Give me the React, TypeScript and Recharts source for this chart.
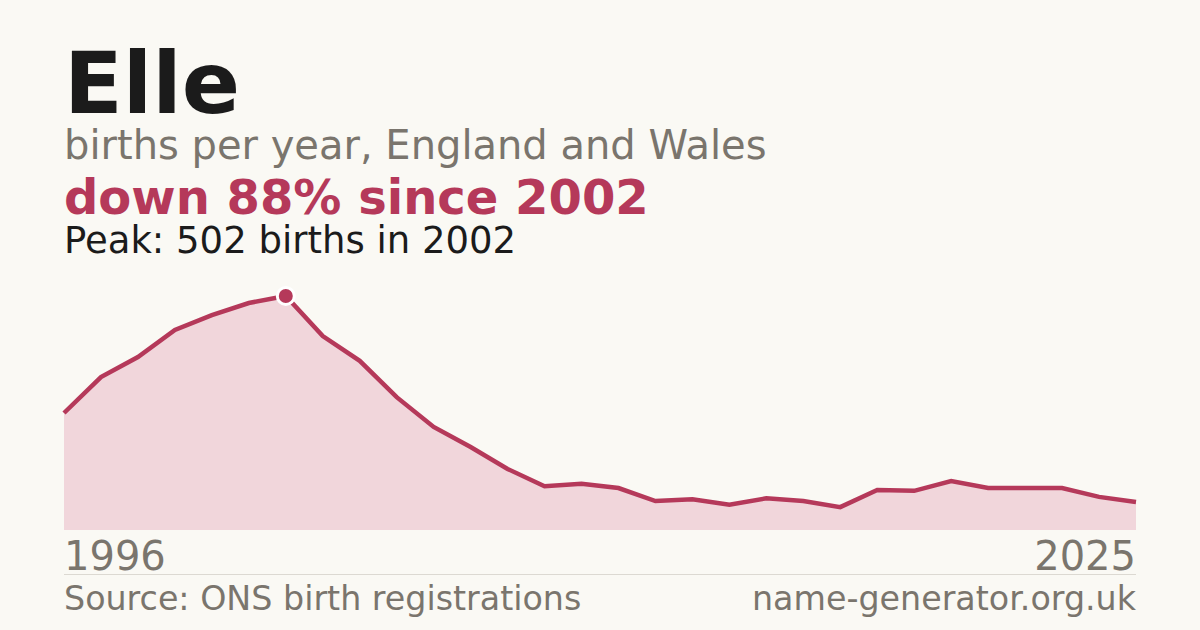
import React from "react";
import { AreaChart, Area, XAxis, YAxis } from "recharts";

const years = [
  1996, 1997, 1998, 1999, 2000, 2001, 2002, 2003, 2004, 2005,
  2006, 2007, 2008, 2009, 2010, 2011, 2012, 2013, 2014, 2015,
  2016, 2017, 2018, 2019, 2020, 2021, 2022, 2023, 2024, 2025,
];
const births = [
  251, 328, 371, 429, 461, 487, 502, 416, 363, 285,
  221, 178, 131, 94, 99, 90, 62, 66, 54, 68,
  62, 49, 86, 84, 105, 90, 90, 90, 71, 60,
];
const tickLabels = ["1996", "2025"];
const title = "Elle";
const subtitle = "births per year, England and Wales";
const headline = "down 88% since 2002";
const peakText = "Peak: 502 births in 2002";
const sourceText = "Source: ONS birth registrations";
const siteText = "name-generator.org.uk";

const data = years.map((y, i) => ({ year: y, value: births[i] }));
const peak = Math.max(...births);

const FONT = "'DejaVu Sans', Verdana, sans-serif";
const BG = "#faf9f4";
const RED = "#b5395a";
const FILL = "#f1d6db";
const GREY = "#7a756d";
const DARK = "#1b1b1b";

const PeakDot = (props: any) => {
  const { cx, cy, payload, index } = props;
  if (!payload || payload.value !== peak) return <g key={`d${index}`} />;
  return (
    <circle
      key={`d${index}`}
      cx={cx}
      cy={cy}
      r={8.5}
      fill={RED}
      stroke="#ffffff"
      strokeWidth={3}
    />
  );
};

export default function App() {
  return (
    <div
      style={{
        position: "absolute",
        left: 0,
        top: 0,
        width: 1200,
        height: 630,
        background: BG,
        overflow: "hidden",
        fontFamily: FONT,
      }}
    >
      <svg
        width={1200}
        height={630}
        style={{ position: "absolute", left: 0, top: 0 }}
      >
        <text x={64} y={113} fontSize={86} fontWeight="bold" fill={DARK} fontFamily={FONT}>
          {title}
        </text>
        <text x={64} y={159} fontSize={40} fill={GREY} fontFamily={FONT}>
          {subtitle}
        </text>
        <text x={64} y={214} fontSize={48} fontWeight="bold" fill={RED} fontFamily={FONT}>
          {headline}
        </text>
        <text x={64} y={253} fontSize={37} fill={DARK} fontFamily={FONT}>
          {peakText}
        </text>
        <text x={64} y={570} fontSize={40} fill={GREY} fontFamily={FONT}>
          {tickLabels[0]}
        </text>
        <text x={1136} y={570} fontSize={40} fill={GREY} fontFamily={FONT} textAnchor="end">
          {tickLabels[1]}
        </text>
        <line x1={64} x2={1136} y1={574.5} y2={574.5} stroke="#dcd9d2" strokeWidth={1} />
        <text x={64} y={610} fontSize={33.3} fill={GREY} fontFamily={FONT}>
          {sourceText}
        </text>
        <text x={1136} y={610} fontSize={33.3} fill={GREY} fontFamily={FONT} textAnchor="end">
          {siteText}
        </text>
      </svg>
      <div style={{ position: "absolute", left: 54, top: 286 }}>
        <AreaChart
          width={1092}
          height={254}
          data={data}
          margin={{ top: 10, right: 10, bottom: 10, left: 10 }}
        >
          <XAxis dataKey="year" hide />
          <YAxis hide domain={[0, peak]} />
          <Area
            type="linear"
            dataKey="value"
            stroke={RED}
            strokeWidth={4.5}
            fill={FILL}
            fillOpacity={1}
            dot={PeakDot}
            activeDot={false}
            isAnimationActive={false}
          />
        </AreaChart>
      </div>
    </div>
  );
}
